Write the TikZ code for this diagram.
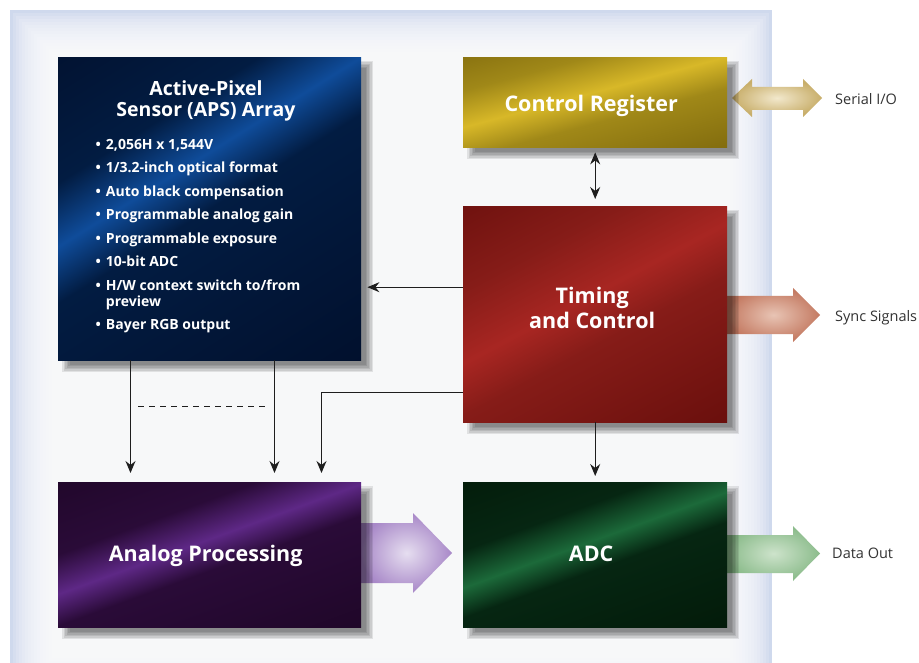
\documentclass[tikz,border=0pt]{standalone}
\usepackage{fontspec}
\setmainfont{Open Sans}
\usetikzlibrary{arrows.meta,calc}

\definecolor{panelblue}{HTML}{CFD9ED}
\definecolor{lbl}{HTML}{333333}
\definecolor{lnk}{HTML}{1E1E1E}
% box colours: dark / base / light
\definecolor{apsD}{HTML}{010B24}\definecolor{apsB}{HTML}{021C42}\definecolor{apsL}{HTML}{0F4C9A}
\definecolor{ctlD}{HTML}{6A5606}\definecolor{ctlB}{HTML}{A08818}\definecolor{ctlL}{HTML}{D8B828}
\definecolor{timD}{HTML}{5A0806}\definecolor{timB}{HTML}{861C18}\definecolor{timL}{HTML}{A82622}
\definecolor{anaD}{HTML}{19041F}\definecolor{anaB}{HTML}{2A0B38}\definecolor{anaL}{HTML}{5E2886}
\definecolor{adcD}{HTML}{011404}\definecolor{adcB}{HTML}{062612}\definecolor{adcL}{HTML}{1C6A3A}
% big arrow colours: outer / inner
\definecolor{serO}{HTML}{C8AE6A}\definecolor{serI}{HTML}{F2E8CC}
\definecolor{synO}{HTML}{C47A62}\definecolor{synI}{HTML}{E8C4B4}
\definecolor{datO}{HTML}{8CBC8C}\definecolor{datI}{HTML}{CDE3CB}
\definecolor{purO}{HTML}{A888C8}\definecolor{purI}{HTML}{E6DEF0}

\pgfdeclarehorizontalshading{apsS}{100bp}{color(0bp)=(apsD); color(33bp)=(apsB); color(42bp)=(apsL); color(50bp)=(apsB); color(100bp)=(apsD)}
\pgfdeclarehorizontalshading{ctlS}{100bp}{color(0bp)=(ctlD); color(32bp)=(ctlB); color(46bp)=(ctlL); color(58bp)=(ctlB); color(100bp)=(ctlD)}
\pgfdeclarehorizontalshading{timS}{100bp}{color(0bp)=(timD); color(32bp)=(timB); color(46bp)=(timL); color(56bp)=(timB); color(100bp)=(timD)}
\pgfdeclarehorizontalshading{anaS}{100bp}{color(0bp)=(anaD); color(36bp)=(anaB); color(46bp)=(anaL); color(54bp)=(anaB); color(100bp)=(anaD)}
\pgfdeclarehorizontalshading{adcS}{100bp}{color(0bp)=(adcD); color(36bp)=(adcB); color(46bp)=(adcL); color(54bp)=(adcB); color(100bp)=(adcD)}

\pgfdeclarelayer{bg}
\pgfdeclarelayer{shadowlayer}
\pgfsetlayers{bg,shadowlayer,main}

\newcommand\dropshadow[1]{%
  \foreach \k in {0,...,5}{%
    \fill[black,opacity=.09] ($(#1.north west)+(4+1.5*\k,4+1.5*\k)$) rectangle ($(#1.south east)+(12-1.5*\k,12-1.5*\k)$);}}

\tikzset{
  blockbox/.style={anchor=north west, inner sep=0pt, draw=none, shade},
  boxlabel/.style={text=white, font=\bfseries\fontsize{21.5}{25}\selectfont, align=center, inner sep=0pt},
  sidelabel/.style={text=lbl, font=\fontsize{14.5}{17}\selectfont, anchor=west, inner sep=0pt},
  link/.style={draw=lnk, line width=1.2pt, -{Stealth[length=12pt,width=10pt,inset=4pt]}},
  dbllink/.style={draw=lnk, line width=1.2pt, {Stealth[length=12pt,width=10pt,inset=4pt]}-{Stealth[length=12pt,width=10pt,inset=4pt]}}
}

\begin{document}
\begin{tikzpicture}[x=1pt,y=-1pt]
\useasboundingbox (0,0) rectangle (919,663);

% blocks
\node[blockbox, shading=apsS, shading angle=-58, minimum width=303pt, minimum height=303pt] (aps) at (58,57) {};
\node[blockbox, shading=ctlS, shading angle=-75, minimum width=264pt, minimum height=90pt] (ctrl) at (463,57) {};
\node[blockbox, shading=timS, shading angle=-62, minimum width=264pt, minimum height=216pt] (timing) at (463,206) {};
\node[blockbox, shading=anaS, shading angle=-70, minimum width=303pt, minimum height=145pt] (analog) at (58,482) {};
\node[blockbox, shading=adcS, shading angle=-70, minimum width=264pt, minimum height=145pt] (adc) at (463,482) {};

\begin{pgfonlayer}{bg}
  \fill[white] (0,0) rectangle (919,663);
  % background panel with soft blue edges
  \fill[panelblue] (10,10) rectangle (772,700);
  \foreach \i in {1,...,14}
    \fill[white,opacity=.15] (10+3*\i,10+3*\i) rectangle (772-3*\i,700-3*\i);
  % big arrows
  \path[shade, inner color=serI, outer color=serO]
    (732,98) -- (752,79) -- (752,87) -- (803,87) -- (803,79) -- (822,98)
    -- (803,117) -- (803,110) -- (752,110) -- (752,117) -- cycle;
  \path[shade, inner color=synI, outer color=synO]
    (727,296) -- (793,296) -- (793,288) -- (820,315) -- (793,342) -- (793,334) -- (727,334) -- cycle;
  \path[shade, inner color=datI, outer color=datO]
    (727,535) -- (793,535) -- (793,526) -- (820,553.5) -- (793,581) -- (793,573) -- (727,573) -- cycle;
  \path[shade, inner color=purI, outer color=purO]
    (361,523) -- (413,523) -- (413,513) -- (452,553) -- (413,593) -- (413,583) -- (361,583) -- cycle;
\end{pgfonlayer}

\begin{pgfonlayer}{shadowlayer}
  \dropshadow{aps}
  \dropshadow{ctrl}
  \dropshadow{timing}
  \dropshadow{analog}
  \dropshadow{adc}
\end{pgfonlayer}

% APS text
\node[boxlabel, font=\bfseries\fontsize{19.5}{21}\selectfont, anchor=north] (apstitle) at (206,80) {Active-Pixel\\Sensor (APS) Array};
\node[anchor=north west, inner sep=0pt, text=white, font=\bfseries\fontsize{14}{16}\selectfont] (apslist) at (95.5,138)
  {\begin{tabular}{@{}l@{\hspace{5pt}}l@{}}
   \textbullet & 2,056H x 1,544V\\[7.5pt]
   \textbullet & 1/3.2-inch optical format\\[7.5pt]
   \textbullet & Auto black compensation\\[7.5pt]
   \textbullet & Programmable analog gain\\[7.5pt]
   \textbullet & Programmable exposure\\[7.5pt]
   \textbullet & 10-bit ADC\\[7.5pt]
   \textbullet & H/W context switch to/from\\
               & preview\\[7.5pt]
   \textbullet & Bayer RGB output
   \end{tabular}};

\node[boxlabel, anchor=base] (ctrltext) at ($(ctrl.center)+(-4,9)$) {Control Register};
\node[boxlabel] (timtext) at ($(timing.center)+(-3,-6)$) {Timing\\and Control};
\node[boxlabel, anchor=base] (anatext) at ($(analog.center)+(-4,7)$) {Analog Processing};
\node[boxlabel, anchor=base] (adctext) at ($(adc.center)+(-4,7)$) {ADC};

% side labels
\node[sidelabel] (serial) at (835,99) {Serial I/O};
\node[sidelabel] (sync) at (835,318) {Sync Signals};
\node[sidelabel] (dataout) at (832,553) {Data Out};

% connectors
\coordinate (xa) at (130.5,0);
\coordinate (xb) at (274.5,0);
\coordinate (xc) at (321.5,0);
\draw[dbllink, shorten <=5pt, shorten >=7pt] (ctrl.south) -- (timing.north);
\draw[link, shorten >=6pt] ([yshift=27pt]timing.west) -- ([yshift=27pt]timing.west -| aps.east);
\draw[link, shorten >=9pt] (aps.south -| xa) -- (analog.north -| xa);
\draw[link, shorten >=9pt] (aps.south -| xb) -- (analog.north -| xb);
\coordinate (dashA) at (138,406);
\coordinate (dashB) at (265,406);
\draw[lnk, line width=1pt, dash pattern=on 6pt off 5pt] (dashA) -- (dashB);
\draw[link, shorten >=9pt] ([yshift=-78pt]timing.west) -| (analog.north -| xc);
\draw[link, shorten >=6pt] (timing.south) -- (adc.north);
\end{tikzpicture}
\end{document}
